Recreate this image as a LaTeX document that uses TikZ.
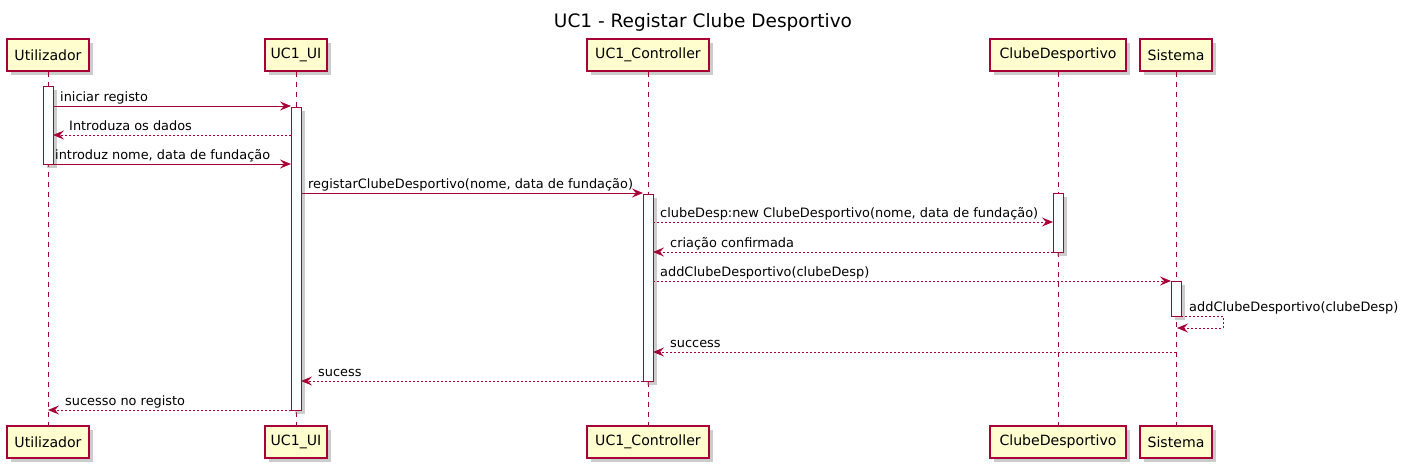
\documentclass[tikz,border=0pt]{standalone}
\usepackage{fontspec}
\setmainfont{DejaVu Sans}
\usetikzlibrary{arrows.meta,shadows}
\definecolor{pborder}{HTML}{A80036}
\definecolor{pfill}{HTML}{FEFECE}
\tikzset{
  partbox/.style={draw=pborder, fill=pfill, line width=1.1pt, minimum height=32pt, inner sep=0pt,
    font=\fontsize{14.1}{16}\selectfont, drop shadow={shadow xshift=3.5pt, shadow yshift=-3.5pt, opacity=0.4, fill=gray}},
  lifeline/.style={draw=pborder, line width=0.9pt, dash pattern=on 5pt off 5pt},
  actbar/.style={draw=pborder, fill=white, line width=1pt, drop shadow={shadow xshift=3.5pt, shadow yshift=-3.5pt, opacity=0.4, fill=gray}},
  msg/.style={draw=pborder, line width=1pt, -{Stealth[length=11pt,width=9pt,inset=4pt]}},
  rmsg/.style={msg, dash pattern=on 2pt off 2pt},
  lbl/.style={anchor=base west, inner sep=0pt, font=\fontsize{12.9}{15}\selectfont},
}
\begin{document}
\begin{tikzpicture}[x=1pt,y=-1pt]
\useasboundingbox (0,0) rectangle (1401,471);
\node[font=\fontsize{18.5}{22}\selectfont] (title) at (703,22) {UC1 - Registar Clube Desportivo};
% participants top
\node[partbox, minimum width=82pt] (u) at (48,55) {Utilizador};
\node[partbox, minimum width=62pt] (ui) at (296,55) {UC1\_UI};
\node[partbox, minimum width=122pt] (c) at (648,55) {UC1\_Controller};
\node[partbox, minimum width=136pt] (cd) at (1058,55) {ClubeDesportivo};
\node[partbox, minimum width=72pt] (s) at (1176,55) {Sistema};
% participants bottom
\node[partbox, minimum width=82pt] (ub) at (48,442) {Utilizador};
\node[partbox, minimum width=62pt] (uib) at (296,442) {UC1\_UI};
\node[partbox, minimum width=122pt] (cb) at (648,442) {UC1\_Controller};
\node[partbox, minimum width=136pt] (cdb) at (1058,442) {ClubeDesportivo};
\node[partbox, minimum width=72pt] (sb) at (1176,442) {Sistema};
% lifelines
\draw[lifeline] (u.south) -- (ub.north);
\draw[lifeline] (ui.south) -- (uib.north);
\draw[lifeline] (c.south) -- (cb.north);
\draw[lifeline] (cd.south) -- (cdb.north);
\draw[lifeline] (s.south) -- (sb.north);
% activation bars
\path[actbar] (43,86) rectangle (53,164);
\path[actbar] (291,107) rectangle (301,410);
\path[actbar] (643,194) rectangle (653,381);
\path[actbar] (1053,193) rectangle (1063,252);
\path[actbar] (1171,281) rectangle (1181,316);
% message endpoints
\coordinate (m1a) at (53,106);   \coordinate (m1b) at (291,106);
\coordinate (m2a) at (291,135);  \coordinate (m2b) at (53,135);
\coordinate (m3a) at (53,164);   \coordinate (m3b) at (291,164);
\coordinate (m4a) at (301,193);  \coordinate (m4b) at (643,193);
\coordinate (m5a) at (653,222);  \coordinate (m5b) at (1053,222);
\coordinate (m6a) at (1053,252); \coordinate (m6b) at (653,252);
\coordinate (m7a) at (653,281);  \coordinate (m7b) at (1171,281);
\coordinate (m8a) at (1181,316); \coordinate (m8c1) at (1223,316); \coordinate (m8c2) at (1223,328); \coordinate (m8b) at (1177,328);
\coordinate (m9a) at (1176,352); \coordinate (m9b) at (653,352);
\coordinate (m10a) at (643,381); \coordinate (m10b) at (301,381);
\coordinate (m11a) at (291,410); \coordinate (m11b) at (48,410);
% messages
\draw[msg] (m1a) -- (m1b);
\draw[rmsg] (m2a) -- (m2b);
\draw[msg] (m3a) -- (m3b);
\draw[msg] (m4a) -- (m4b);
\draw[rmsg] (m5a) -- (m5b);
\draw[rmsg] (m6a) -- (m6b);
\draw[rmsg] (m7a) -- (m7b);
\draw[rmsg] (m8a) -- (m8c1) -- (m8c2) -- (m8b);
\draw[rmsg] (m9a) -- (m9b);
\draw[rmsg] (m10a) -- (m10b);
\draw[rmsg] (m11a) -- (m11b);
% labels
\node[lbl] (l1) at (60,101) {iniciar registo};
\node[lbl] (l2) at (69,130) {Introduza os dados};
\node[lbl] (l3) at (55,159) {introduz nome, data de fundação};
\node[lbl] (l4) at (308,188) {registarClubeDesportivo(nome, data de fundação)};
\node[lbl] (l5) at (660,217) {clubeDesp:new ClubeDesportivo(nome, data de fundação)};
\node[lbl] (l6) at (670,247) {criação confirmada};
\node[lbl] (l7) at (660,276) {addClubeDesportivo(clubeDesp)};
\node[lbl] (l8) at (1189,311) {addClubeDesportivo(clubeDesp)};
\node[lbl] (l9) at (670,347) {success};
\node[lbl] (l10) at (318,376) {sucess};
\node[lbl] (l11) at (65,405) {sucesso no registo};
\end{tikzpicture}
\end{document}
